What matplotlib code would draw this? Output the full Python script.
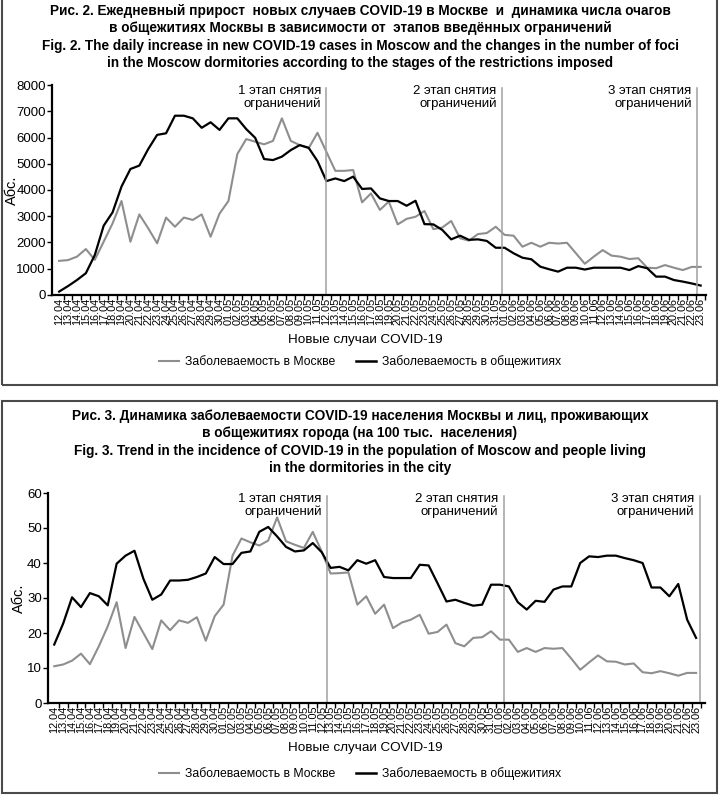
import numpy as np
import matplotlib.pyplot as plt
from matplotlib.patches import Rectangle
from matplotlib.lines import Line2D

plt.rcParams['font.family'] = ['Liberation Sans', 'DejaVu Sans']

#---------------data
days = (["%02d.04" % d for d in range(12, 31)] + ["%02d.05" % d for d in range(1, 32)]
        + ["%02d.06" % d for d in range(1, 24)])

moscow_cases = [1300, 1330, 1460, 1750, 1340, 2030, 2730, 3580, 2030, 3070,
                2540, 1970, 2950, 2600, 2950, 2860, 3070, 2220, 3100, 3580,
                5370, 5940, 5840, 5740, 5870, 6730, 5870, 5710, 5590, 6180,
                5450, 4730, 4730, 4760, 3530, 3870, 3240, 3560, 2690, 2900,
                2980, 3200, 2510, 2570, 2820, 2160, 2070, 2320, 2360, 2600,
                2290, 2260, 1840, 1990, 1840, 1990, 1960, 1990, 1590, 1190,
                1460, 1710, 1500, 1460, 1370, 1400, 1040, 1020, 1140, 1040,
                950, 1070, 1070]

dorm_foci = [130, 340, 570, 830, 1520, 2640, 3150, 4130, 4800, 4930,
             5560, 6100, 6160, 6830, 6830, 6730, 6370, 6580, 6290, 6730,
             6730, 6320, 5990, 5180, 5140, 5270, 5520, 5710, 5610, 5100,
             4340, 4440, 4340, 4510, 4040, 4060, 3680, 3580, 3580, 3400,
             3590, 2700, 2690, 2480, 2120, 2260, 2100, 2120, 2060, 1800,
             1800, 1590, 1420, 1360, 1080, 980, 890, 1040, 1040, 970,
             1040, 1040, 1040, 1040, 950, 1100, 1020, 700, 700, 570,
             510, 440, 360]

moscow_rate = [10.5, 11.0, 12.1, 14.1, 11.1, 16.2, 21.9, 28.8, 15.7, 24.6,
               20.0, 15.4, 23.6, 20.8, 23.6, 22.9, 24.5, 17.8, 24.8, 28.1,
               42.1, 47.0, 45.9, 45.0, 46.4, 53.0, 46.2, 45.2, 44.3, 48.9,
               43.3, 37.0, 37.1, 37.3, 28.1, 30.5, 25.5, 28.1, 21.4, 23.0,
               23.8, 25.2, 19.8, 20.3, 22.4, 17.1, 16.2, 18.6, 18.8, 20.5,
               18.1, 18.1, 14.6, 15.7, 14.6, 15.7, 15.5, 15.7, 12.7, 9.5,
               11.6, 13.6, 11.9, 11.8, 11.0, 11.3, 8.8, 8.5, 9.1, 8.5,
               7.8, 8.6, 8.6]

dorm_rate = [16.7, 22.7, 30.2, 27.4, 31.4, 30.5, 27.9, 39.8, 42.1, 43.5,
             35.5, 29.5, 31.0, 35.0, 35.0, 35.2, 36.0, 37.0, 41.7, 39.7,
             39.7, 42.9, 43.3, 48.9, 50.3, 47.6, 44.6, 43.3, 43.6, 45.7,
             43.1, 38.6, 38.9, 37.9, 40.8, 39.8, 40.8, 36.0, 35.7, 35.7,
             35.7, 39.5, 39.3, 34.2, 29.0, 29.5, 28.6, 27.8, 28.1, 33.8,
             33.8, 33.3, 28.8, 26.7, 29.2, 28.9, 32.4, 33.3, 33.3, 40.0,
             41.9, 41.7, 42.1, 42.1, 41.4, 40.8, 40.0, 33.0, 33.0, 30.5,
             34.0, 23.8, 18.6]

stages = ["1 этап снятия\nограничений", "2 этап снятия\nограничений", "3 этап снятия\nограничений"]
stage_pos_top = [30, 49.7, 71.6]
stage_pos_bottom = [30.6, 50.4, 72.4]

legend_labels = ["Заболеваемость в Москве", "Заболеваемость в общежитиях"]

title_top = ("Рис. 2. Ежедневный прирост  новых случаев COVID-19 в Москве  и  динамика числа очагов\n"
             "в общежитиях Москвы в зависимости от  этапов введённых ограничений\n"
             "Fig. 2. The daily increase in new COVID-19 cases in Moscow and the changes in the number of foci\n"
             "in the Moscow dormitories according to the stages of the restrictions imposed")
title_bottom = ("Рис. 3. Динамика заболеваемости COVID-19 населения Москвы и лиц, проживающих\n"
                "в общежитиях города (на 100 тыс.  населения)\n"
                "Fig. 3. Trend in the incidence of COVID-19 in the population of Moscow and people living\n"
                "in the dormitories in the city")

GRAY = '#8e8e8e'
W, H = 720, 795


def px_axes(fig, left, top, right, bottom):
    return fig.add_axes([left / W, 1 - bottom / H, (right - left) / W, (bottom - top) / H])


#---------------draw one panel
def draw_panel(ax, gray, black, ymax, ystep, stage_pos, xlim, ylab_x):
    x = np.arange(len(days))
    ax.plot(x, gray, color=GRAY, lw=1.5)
    ax.plot(x, black, color='black', lw=1.6)
    for p, s in zip(stage_pos, stages):
        ax.plot([p, p], [0, ymax * 0.985], color='#a0a0a0', lw=1.1)
        ax.text(p - 0.6, ymax * 1.0, s, ha='right', va='top', fontsize=9.5, linespacing=1.0)
    ax.set_xlim(*xlim)
    ax.set_ylim(0, ymax)
    ax.set_yticks(np.arange(0, ymax + 1, ystep))
    ax.set_xticks(x)
    ax.set_xticklabels(days, rotation=90, fontsize=7.8)
    ax.set_xticks(x + 0.5, minor=True)
    ax.tick_params(axis='x', which='major', length=0, pad=2)
    ax.tick_params(axis='x', which='minor', length=3.5, width=1)
    ax.tick_params(axis='y', length=3.5, width=1, labelsize=9.5, pad=1)
    for sp in ['top', 'right']:
        ax.spines[sp].set_visible(False)
    ax.spines['left'].set_linewidth(1.6)
    ax.spines['bottom'].set_linewidth(1.6)
    ax.set_ylabel("Абс.", fontsize=10.5)
    # place the axis title at a fixed pixel column
    bb = ax.get_position()
    ax.yaxis.set_label_coords((ylab_x / W - bb.x0) / bb.width, 0.5)


fig = plt.figure(figsize=(W / 100, H / 100), dpi=100)

# boxes round the two figures
fig.patches.append(Rectangle((2 / W, 1 - 385 / H), 715 / W, 390 / H, transform=fig.transFigure,
                             fill=False, ec='#4a4a4a', lw=1.5))
fig.patches.append(Rectangle((2 / W, 1 - 793 / H), 715 / W, 392 / H, transform=fig.transFigure,
                             fill=False, ec='#4a4a4a', lw=1.5))

fig.text(0.5, 1 - 4 / H, title_top, ha='center', va='top', fontsize=9.85, weight='bold', linespacing=1.3)
fig.text(0.5, 1 - 409 / H, title_bottom, ha='center', va='top', fontsize=9.85, weight='bold', linespacing=1.3)

ax1 = px_axes(fig, 52, 85, 706, 295)
draw_panel(ax1, moscow_cases, dorm_foci, 8000, 1000, stage_pos_top, (-0.8, 72.6), 19)

ax2 = px_axes(fig, 48, 493, 705, 703)
draw_panel(ax2, moscow_rate, dorm_rate, 60, 10, stage_pos_bottom, (-0.7, 73.0), 26)

# x labels and legends
handles = [Line2D([], [], color=GRAY, lw=1.5), Line2D([], [], color='black', lw=1.8)]
for y_lab, y_leg in [(340, 362), (748, 774)]:
    fig.text(365 / W, 1 - y_lab / H, "Новые случаи COVID-19", ha='center', va='center', fontsize=9.7)
    fig.legend(handles, legend_labels, loc='center', bbox_to_anchor=(0.5, 1 - y_leg / H), ncol=2,
               frameon=False, fontsize=8.8, handlelength=1.6, columnspacing=1.7, handletextpad=0.5)

fig.savefig("out.png", dpi=100)
